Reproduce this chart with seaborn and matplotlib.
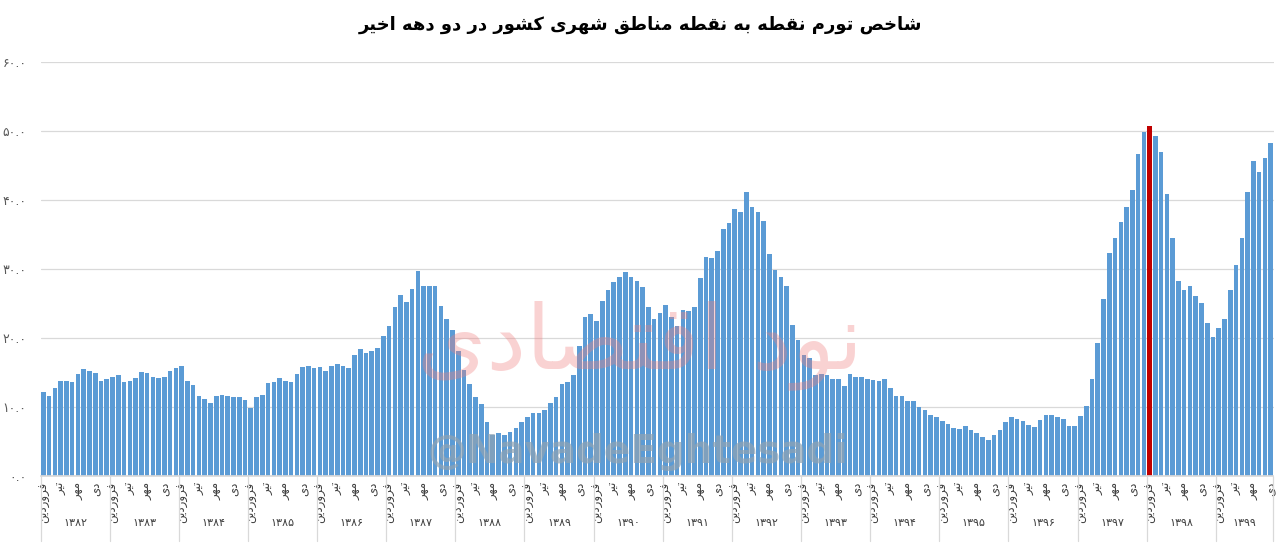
import matplotlib
matplotlib.use('Agg')
import matplotlib.pyplot as plt
import matplotlib.transforms as mtransforms
import seaborn as sns
import pandas as pd
import numpy as np

# Point-to-point inflation, urban areas, monthly (farvardin .. esfand)
y1382 = [12.2, 11.6, 12.8, 13.7, 13.8, 13.6, 14.8, 15.5, 15.2, 14.9, 13.8, 14.0]
y1383 = [14.4, 14.6, 13.6, 13.8, 14.2, 15.1, 14.9, 14.4, 14.2, 14.4, 15.2, 15.7]
y1384 = [15.9, 13.8, 13.2, 11.6, 11.1, 10.6, 11.6, 11.8, 11.6, 11.5, 11.4, 11.0]
y1385 = [9.8, 11.4, 11.7, 13.5, 13.6, 14.2, 13.7, 13.6, 14.8, 15.8, 15.9, 15.7]
y1386 = [15.8, 15.2, 15.9, 16.2, 16.0, 15.7, 17.5, 18.4, 17.8, 18.1, 18.6, 20.3]
y1387 = [21.8, 24.5, 26.3, 25.2, 27.1, 29.7, 27.5, 27.6, 27.6, 24.6, 22.8, 21.2]
y1388 = [18.1, 15.3, 13.4, 11.4, 10.4, 7.8, 6.0, 6.2, 6.0, 6.4, 7.0, 7.8]
y1389 = [8.6, 9.2, 9.2, 9.6, 10.6, 11.5, 13.3, 13.6, 14.7, 18.8, 23.0, 23.5]
y1390 = [22.4, 25.3, 26.9, 28.1, 28.8, 29.6, 28.8, 28.3, 27.4, 24.5, 22.8, 23.6]
y1391 = [24.8, 23.0, 21.8, 24.0, 23.9, 24.5, 28.7, 31.7, 31.6, 32.6, 35.8, 36.7]
y1392 = [38.7, 38.3, 41.2, 39.0, 38.3, 37.0, 32.2, 29.8, 28.8, 27.5, 21.9, 19.7]
y1393 = [17.5, 17.1, 14.6, 14.8, 14.6, 14.1, 14.1, 13.1, 14.8, 14.4, 14.4, 14.1]
y1394 = [13.9, 13.7, 14.1, 12.8, 11.6, 11.6, 10.8, 10.8, 10.0, 9.5, 8.9, 8.5]
y1395 = [7.9, 7.5, 6.9, 6.8, 7.2, 6.6, 6.3, 5.7, 5.2, 5.9, 6.7, 7.8]
y1396 = [8.5, 8.3, 7.9, 7.4, 7.1, 8.1, 8.9, 8.9, 8.5, 8.3, 7.2, 7.3]
y1397 = [8.7, 10.2, 14.0, 19.3, 25.7, 32.3, 34.5, 36.8, 39.0, 41.5, 46.6, 49.9]
y1398 = [50.7, 49.3, 46.9, 40.8, 34.5, 28.2, 27.0, 27.5, 26.1, 25.1, 22.2, 20.2]
y1399 = [21.4, 22.8, 27.0, 30.6, 34.5, 41.2, 45.7, 44.1, 46.1, 48.3]

years = [1382, 1383, 1384, 1385, 1386, 1387, 1388, 1389, 1390,
         1391, 1392, 1393, 1394, 1395, 1396, 1397, 1398, 1399]
year_values = [y1382, y1383, y1384, y1385, y1386, y1387, y1388, y1389, y1390,
               y1391, y1392, y1393, y1394, y1395, y1396, y1397, y1398, y1399]
month_labels = {0: 'فروردین', 3: 'تیر', 6: 'مهر', 9: 'دی'}
highlight_year, highlight_month = 1398, 0

title = 'شاخص تورم نقطه به نقطه مناطق شهری کشور در دو دهه اخیر'

# --- minimal Persian shaping (matplotlib has no RTL / joining support) ---
FORMS = {  # isolated, final, initial, medial
    'ا': ('\uFE8D', '\uFE8E', None, None),
    'ب': ('\uFE8F', '\uFE90', '\uFE91', '\uFE92'),
    'ت': ('\uFE95', '\uFE96', '\uFE97', '\uFE98'),
    'خ': ('\uFEA5', '\uFEA6', '\uFEA7', '\uFEA8'),
    'د': ('\uFEA9', '\uFEAA', None, None),
    'ر': ('\uFEAD', '\uFEAE', None, None),
    'ش': ('\uFEB5', '\uFEB6', '\uFEB7', '\uFEB8'),
    'ص': ('\uFEB9', '\uFEBA', '\uFEBB', '\uFEBC'),
    'ط': ('\uFEC1', '\uFEC2', '\uFEC3', '\uFEC4'),
    'ف': ('\uFED1', '\uFED2', '\uFED3', '\uFED4'),
    'ق': ('\uFED5', '\uFED6', '\uFED7', '\uFED8'),
    'ک': ('\uFB8E', '\uFB8F', '\uFB90', '\uFB91'),
    'ل': ('\uFEDD', '\uFEDE', '\uFEDF', '\uFEE0'),
    'م': ('\uFEE1', '\uFEE2', '\uFEE3', '\uFEE4'),
    'ن': ('\uFEE5', '\uFEE6', '\uFEE7', '\uFEE8'),
    'ه': ('\uFEE9', '\uFEEA', '\uFEEB', '\uFEEC'),
    'و': ('\uFEED', '\uFEEE', None, None),
    'ی': ('\uFBFC', '\uFBFD', '\uFBFE', '\uFBFF'),
}


def fa(text):
    out = []
    for i, ch in enumerate(text):
        if ch not in FORMS:
            out.append(ch)
            continue
        prev = text[i - 1] if i > 0 else ''
        nxt = text[i + 1] if i + 1 < len(text) else ''
        join_prev = prev in FORMS and FORMS[prev][2] is not None
        join_next = nxt in FORMS and FORMS[ch][2] is not None
        iso, fin, ini, med = FORMS[ch]
        if join_prev and join_next:
            out.append(med)
        elif join_prev:
            out.append(fin)
        elif join_next:
            out.append(ini)
        else:
            out.append(iso)
    return ''.join(out)[::-1]


FA_DIGITS = str.maketrans('0123456789', '۰۱۲۳۴۵۶۷۸۹')

# --- data frame ---
values = [v for yv in year_values for v in yv]
df = pd.DataFrame({'idx': np.arange(len(values)), 'value': values})
n = len(df)

sns.set_theme(style='white')
plt.rcParams['font.family'] = ['DejaVu Sans']

fig = plt.figure(figsize=(12.8, 5.44), dpi=100)
W, H = 1280, 544
ax_left, ax_right, ax_top, ax_bottom = 40.5, 1273.5, 62, 476
ax = fig.add_axes([ax_left / W, 1 - ax_bottom / H,
                   (ax_right - ax_left) / W, (ax_bottom - ax_top) / H])

sns.barplot(data=df, x='idx', y='value', color='#5b9bd5', saturation=1,
            width=0.8, linewidth=0, ax=ax)

hi = years.index(highlight_year) * 12 + highlight_month
ax.patches[hi].set_facecolor('#c00000')

ax.set_xlim(-0.5, n - 0.5)
ax.set_ylim(0, 60)
ax.set_xlabel('')
ax.set_ylabel('')

# y axis
yt = np.arange(0, 61, 10)
ax.set_yticks(yt)
ax.set_yticklabels([f'{v:.1f}'.translate(FA_DIGITS) for v in yt],
                   fontsize=9, color='#595959')
ax.tick_params(axis='y', length=0, pad=10)
ax.yaxis.grid(True, color='#d9d9d9', linewidth=0.9)
ax.set_axisbelow(True)
for s in ['left', 'right', 'top']:
    ax.spines[s].set_visible(False)
ax.spines['bottom'].set_color('#d9d9d9')

# x axis: month labels every three months
ticks, labels = [], []
start = 0
for yv in year_values:
    for m in range(len(yv)):
        if m in month_labels:
            ticks.append(start + m)
            labels.append(fa(month_labels[m]))
    start += len(yv)
ax.set_xticks(ticks)
ax.set_xticklabels(labels, rotation=90, fontsize=8.5, color='#404040')
ax.tick_params(axis='x', length=0, pad=4)

# year separators and labels
trans = mtransforms.blended_transform_factory(ax.transData, ax.transAxes)
sep_depth = (541 - ax_bottom) / (ax_bottom - ax_top)
year_y = -(523 - ax_bottom) / (ax_bottom - ax_top)
start = 0
for yr, yv in zip(years, year_values):
    ax.plot([start - 0.5, start - 0.5], [0, -sep_depth], transform=trans,
            color='#d9d9d9', lw=0.9, clip_on=False)
    ax.text(start + (len(yv) - 1) / 2, year_y, str(yr).translate(FA_DIGITS),
            transform=trans, ha='center', va='center', fontsize=8,
            color='#404040')
    start += len(yv)
ax.plot([n - 0.5, n - 0.5], [0, -sep_depth], transform=trans,
        color='#d9d9d9', lw=0.9, clip_on=False)

# title
fig.text(640 / W, 1 - 25 / H, fa(title), ha='center', va='center',
         fontsize=13, fontweight='bold', color='black')

# watermark
fig.text(640 / W, 1 - 345 / H, fa('نود اقتصادی'), ha='center', va='center',
         fontsize=64, color='#f08080', alpha=0.35, zorder=10)
fig.text(638 / W, 1 - 452 / H, '@NavadeEghtesadi', ha='center', va='center',
         fontsize=28, fontweight='bold', color='#8fa3b3', alpha=0.7, zorder=10)

fig.savefig('out.png', dpi=100)
